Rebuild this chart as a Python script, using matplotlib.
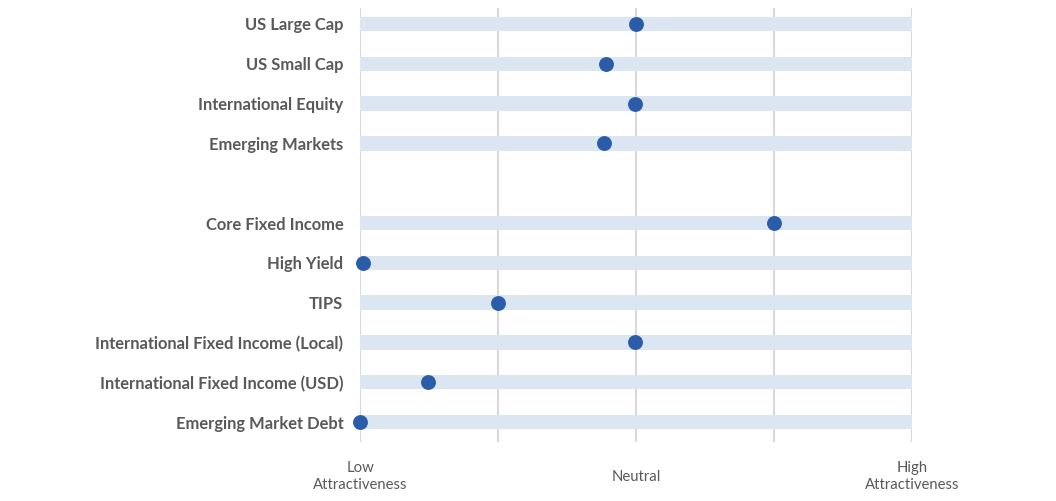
import matplotlib
matplotlib.use("Agg")
import matplotlib.pyplot as plt

categories = ["US Large Cap", "US Small Cap", "International Equity", "Emerging Markets", "",
              "Core Fixed Income", "High Yield", "TIPS", "International Fixed Income (Local)",
              "International Fixed Income (USD)", "Emerging Market Debt"]
values = [2.0, 1.78, 1.99, 1.77, None, 3.0, 0.02, 1.0, 1.99, 0.49, 0.0]
scale_max = 4
tick_positions = [0, 1, 2, 3, 4]
tick_labels = ["Low\nAttractiveness", "", "Neutral", "", "High\nAttractiveness"]

fig = plt.figure(figsize=(10.56, 5.01), dpi=100)
ax = fig.add_axes([360/1056, 1-442/501, 552/1056, 434/501])

ypos = list(range(len(categories)))
for y, c, v in zip(ypos, categories, values):
    if v is None:
        continue
    ax.barh(y, scale_max, height=0.36, left=0, color="#dce6f2", zorder=1)
    ax.scatter([v], [y], s=115, color="#2a5caa", zorder=3, clip_on=False, linewidths=0)

ax.set_xlim(0, scale_max)
ax.set_ylim(10.5, -0.4)
ax.set_yticks(ypos)
ax.set_yticklabels(categories, fontfamily="Lato", fontweight="bold", fontsize=11.9, color="#595959")
ax.set_xticks(tick_positions)
ax.set_xticklabels(tick_labels, fontfamily="Lato", fontsize=10.7, color="#595959", va="center", linespacing=1.3)
ax.tick_params(axis="x", length=0, pad=25)
ax.tick_params(axis="y", length=0, pad=12)
ax.grid(axis="x", color="#d9d9d9", linewidth=1.5, zorder=0)
ax.set_axisbelow(True)
for s in ax.spines.values():
    s.set_visible(False)

fig.savefig("out.png", dpi=100)
